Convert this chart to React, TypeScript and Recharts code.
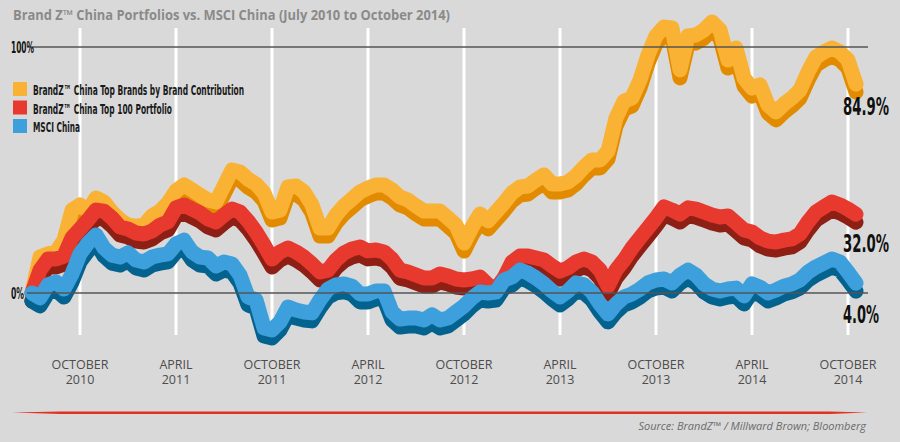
import React from "react";
import { LineChart, Line, XAxis, YAxis, ReferenceLine } from "recharts";

// semi-monthly observations, July 2010 to October 2014
const months = [
  "2010-07", "2010-08", "2010-09", "2010-10", "2010-11", "2010-12",
  "2011-01", "2011-02", "2011-03", "2011-04", "2011-05", "2011-06",
  "2011-07", "2011-08", "2011-09", "2011-10", "2011-11", "2011-12",
  "2012-01", "2012-02", "2012-03", "2012-04", "2012-05", "2012-06",
  "2012-07", "2012-08", "2012-09", "2012-10", "2012-11", "2012-12",
  "2013-01", "2013-02", "2013-03", "2013-04", "2013-05", "2013-06",
  "2013-07", "2013-08", "2013-09", "2013-10", "2013-11", "2013-12",
  "2014-01", "2014-02", "2014-03", "2014-04", "2014-05", "2014-06",
  "2014-07", "2014-08", "2014-09", "2014-10",
];
const periods = months.flatMap((m) => [`${m}-01`, `${m}-16`]);

const tickDates = [
  "2010-10-01", "2011-04-01", "2011-10-01", "2012-04-01", "2012-10-01",
  "2013-04-01", "2013-10-01", "2014-04-01", "2014-10-01",
];
const tickLabels = [
  ["OCTOBER", "2010"], ["APRIL", "2011"], ["OCTOBER", "2011"], ["APRIL", "2012"],
  ["OCTOBER", "2012"], ["APRIL", "2013"], ["OCTOBER", "2013"], ["APRIL", "2014"],
  ["OCTOBER", "2014"],
];

// cumulative return, %
const topBrands = [
  0, 14.6, 15.9, 16.7, 21.5, 33.7, 35.8, 33.3, 38.6, 37.0,
  32.9, 29.7, 27.6, 27.2, 27.6, 31.3, 33.3, 36.6, 41.5, 43.9,
  41.9, 39.8, 37.8, 37.0, 43.5, 50.0, 49.2, 46.3, 44.3, 40.7,
  32.9, 33.7, 43.1, 43.5, 41.1, 35.8, 26.4, 26.4, 31.7, 35.4,
  38.2, 41.1, 42.7, 43.9, 43.9, 41.9, 39.0, 37.8, 35.4, 33.3,
  33.3, 33.3, 30.5, 27.6, 20.3, 26.8, 32.1, 29.3, 32.9, 36.6,
  40.7, 43.1, 43.5, 45.9, 48.0, 44.3, 44.3, 45.1, 47.6, 51.2,
  54.1, 54.1, 57.7, 71.1, 78.0, 79.3, 86.6, 96.7, 104.5, 108.1,
  107.7, 90.7, 104.5, 104.9, 106.9, 110.2, 106.9, 94.7, 99.6, 87.4,
  83.3, 84.6, 76.4, 73.6, 76.8, 79.3, 82.5, 89.8, 95.9, 98.0,
  99.6, 98.0, 94.7, 84.9,
];
const top100 = [
  0, 9.3, 13.8, 13.8, 15.0, 22.4, 26.0, 29.7, 33.7, 33.3,
  30.5, 26.8, 26.0, 24.4, 24.0, 25.2, 27.6, 28.9, 34.6, 35.8,
  34.1, 32.5, 30.1, 28.9, 31.7, 34.1, 32.9, 29.3, 24.8, 19.5,
  13.8, 16.7, 18.3, 16.7, 14.6, 11.8, 8.5, 9.3, 13.4, 16.3,
  17.9, 18.7, 17.1, 17.5, 16.7, 13.8, 9.3, 8.5, 7.3, 6.1,
  6.1, 7.7, 6.9, 5.7, 5.3, 5.7, 6.5, 3.3, 1.6, 6.1,
  12.6, 15.0, 15.0, 14.2, 13.4, 11.0, 8.9, 10.2, 12.6, 13.8,
  12.6, 9.3, 2.8, 9.3, 13.4, 18.3, 22.4, 26.4, 30.5, 35.0,
  33.7, 32.1, 34.6, 34.1, 32.9, 31.7, 30.9, 31.3, 28.5, 25.6,
  24.8, 22.4, 21.1, 20.7, 21.5, 22.0, 24.0, 28.9, 32.9, 35.0,
  37.0, 35.8, 34.1, 32.0,
];
const msci = [
  0, -2.0, 3.3, 4.5, 1.6, 7.7, 15.9, 20.3, 23.6, 18.3,
  15.4, 14.6, 16.3, 13.4, 12.6, 14.6, 15.4, 15.9, 19.9, 21.5,
  16.7, 14.6, 14.2, 11.0, 12.6, 11.8, 7.3, -1.6, -2.8, -14.2,
  -15.0, -11.8, -5.7, -6.9, -7.7, -8.1, -2.8, 1.6, 3.3, 3.7,
  2.8, -0.4, -0.4, 0.8, 0.8, -7.7, -10.6, -10.2, -10.2, -11.0,
  -8.9, -11.0, -10.2, -7.7, -5.3, -2.0, 0.4, 0.0, 0.4, 5.3,
  6.5, 9.3, 8.1, 6.1, 3.7, 0.8, -1.6, 0.8, 4.1, 3.3,
  0.4, -4.5, -8.5, -4.5, -1.6, -0.4, 1.6, 4.1, 5.3, 5.7,
  4.1, 7.3, 9.3, 7.3, 3.7, 1.6, 0.8, 1.6, 2.0, -1.2,
  3.7, 2.4, 0.0, 1.2, 2.8, 3.7, 5.3, 8.5, 10.6, 12.2,
  13.8, 12.6, 8.5, 4.0,
];

const data = periods.map((period, i) => ({
  period,
  topBrands: topBrands[i],
  top100: top100[i],
  msci: msci[i],
}));

const series = [
  { key: "topBrands", name: "BrandZ\u2122 China Top Brands by Brand Contribution", color: "#f9b233", shadow: "#e28b00", end: "84.9%", dy: 31, legendWidth: 211 },
  { key: "top100", name: "BrandZ\u2122 China Top 100 Portfolio", color: "#e8392e", shadow: "#8d1f15", end: "32.0%", dy: 38, legendWidth: 139 },
  { key: "msci", name: "MSCI China", color: "#3d9fdb", shadow: "#04628f", end: "4.0%", dy: 40, legendWidth: 47 },
];

const MAIN_DOMAIN = [-21.14, 115.04];
const SHADOW_DOMAIN = [-17.89, 118.29]; // same scale, 8px lower
const narrow = "'Liberation Sans Narrow', 'DejaVu Sans Condensed', 'Roboto', sans-serif";
const sans = "'Open Sans', 'Lato', sans-serif";
const last = data.length - 1;

const XTick = ({ x, y, payload }: any) => {
  const idx = tickDates.indexOf(payload.value);
  const [l1, l2] = tickLabels[idx] || ["", ""];
  return (
    <text x={x} y={y} textAnchor="middle" fill="#4d4d4d" fontFamily={sans} fontSize={12.5}>
      <tspan x={x} dy={24}>{l1}</tspan>
      <tspan x={x} dy={15}>{l2}</tspan>
    </text>
  );
};

const YTick = ({ y, payload }: any) => (
  <text x={11} y={y + 6} fill="#111" fontFamily={narrow} fontWeight="bold" fontSize={16}
    textLength={payload.value === 100 ? 23 : 13} lengthAdjust="spacingAndGlyphs">
    {payload.value}%
  </text>
);

const endLabel = (s: any) => (props: any) => {
  if (props.index !== last) return null;
  return (
    <text x={props.x - 13} y={props.y + s.dy} fill="#111" fontFamily={narrow} fontWeight="bold"
      fontSize={25} textLength={s.end.length > 4 ? 46 : 36} lengthAdjust="spacingAndGlyphs">
      {s.end}
    </text>
  );
};

export default function App() {
  return (
    <div style={{ position: "absolute", left: 0, top: 0, width: 900, height: 442, background: "#d9d9d9", overflow: "hidden" }}>
      <LineChart width={900} height={442} data={data} margin={{ top: 10, right: 32, bottom: 67, left: 0 }}>
        <XAxis dataKey="period" ticks={tickDates} interval={0} tick={<XTick />} tickLine={false}
          axisLine={false} height={30} tickSize={0} tickMargin={0} padding={{ left: 5, right: 12 }} />
        <YAxis yAxisId="main" type="number" domain={MAIN_DOMAIN} ticks={[0, 100]} width={27}
          tick={<YTick />} tickLine={false} axisLine={false} />
        <YAxis yAxisId="shadow" type="number" domain={SHADOW_DOMAIN} hide />
        {tickDates.map((d) => (
          <ReferenceLine key={d} yAxisId="main" segment={[{ x: d, y: -17.07 }, { x: d, y: 107.72 }]}
            stroke="#ffffff" strokeWidth={3} />
        ))}
        {series.flatMap((s) => [
          <Line key={s.key + "-shadow"} yAxisId="shadow" dataKey={s.key} type="linear" stroke={s.shadow}
            strokeWidth={15} strokeLinejoin="round" strokeLinecap="round" dot={false} activeDot={false}
            isAnimationActive={false} legendType="none" />,
          <Line key={s.key} yAxisId="main" dataKey={s.key} name={s.name} type="linear" stroke={s.color}
            strokeWidth={15} strokeLinejoin="round" strokeLinecap="round" dot={false} activeDot={false}
            isAnimationActive={false} label={endLabel(s)} />,
        ])}
        <ReferenceLine yAxisId="main" y={0} stroke="#555" strokeWidth={1.3} />
        <ReferenceLine yAxisId="main" y={100} stroke="#555" strokeWidth={1.3} />
      </LineChart>

      <svg width={900} height={442} style={{ position: "absolute", left: 0, top: 0, pointerEvents: "none" }}>
        <text x={13} y={20} fill="#8a8a8a" fontFamily={sans} fontWeight="bold" fontSize={13.5}
          textLength={437} lengthAdjust="spacingAndGlyphs">
          Brand Z{"\u2122"} China Portfolios vs. MSCI China (July 2010 to October 2014)
        </text>
        {series.map((s, i) => (
          <g key={s.key}>
            <rect x={13} y={82 + i * 18.5} width={14} height={14} fill={s.color} />
            <text x={33} y={95 + i * 18.5} fill="#1a1a1a" fontFamily={narrow} fontWeight="bold" fontSize={14}
              textLength={s.legendWidth} lengthAdjust="spacingAndGlyphs">
              {s.name}
            </text>
          </g>
        ))}
        <polygon points="12,412.6 60,411.4 830,411.4 867,412.6 830,413.9 60,413.9" fill="#e2321f" />
        <text x={866} y={430} textAnchor="end" fill="#6b6b6b" fontFamily={sans} fontStyle="italic" fontSize={11}>
          Source: BrandZ{"\u2122"} / Millward Brown; Bloomberg
        </text>
      </svg>
    </div>
  );
}
